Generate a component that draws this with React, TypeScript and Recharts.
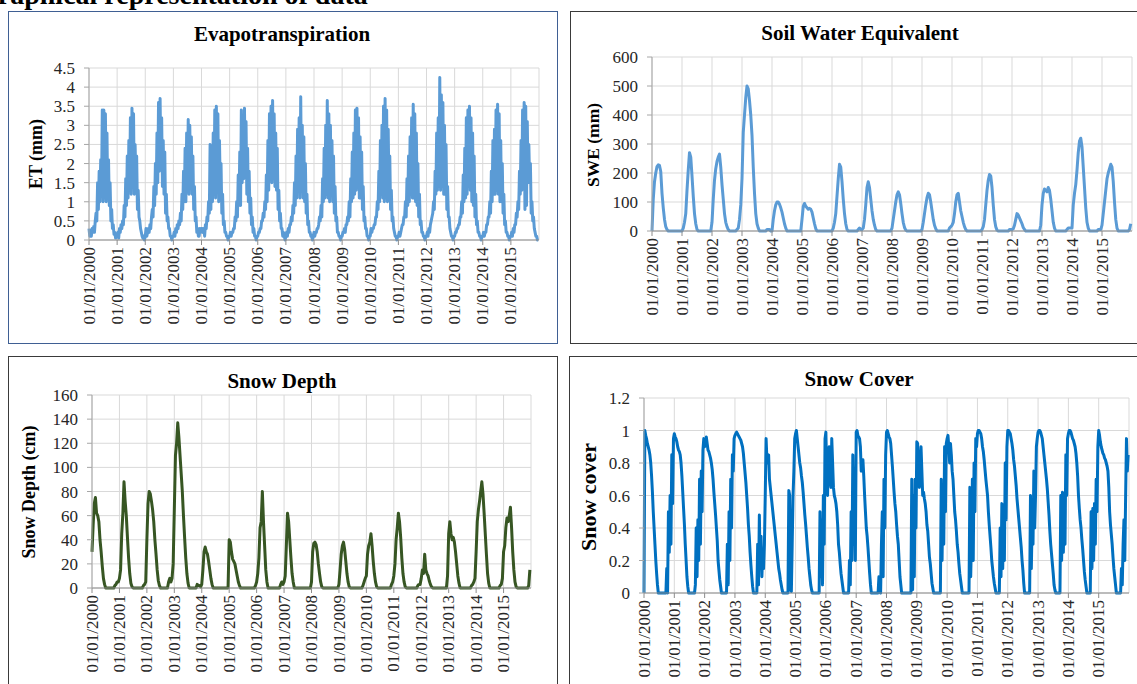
import React from 'react';
import { LineChart, Line, XAxis, YAxis, CartesianGrid } from 'recharts';

const years = [2000, 2001, 2002, 2003, 2004, 2005, 2006, 2007, 2008, 2009, 2010, 2011, 2012, 2013, 2014, 2015];
const xTickLabels = [
  '01/01/2000', '01/01/2001', '01/01/2002', '01/01/2003', '01/01/2004', '01/01/2005', '01/01/2006', '01/01/2007',
  '01/01/2008', '01/01/2009', '01/01/2010', '01/01/2011', '01/01/2012', '01/01/2013', '01/01/2014', '01/01/2015',
];
const etTicks = [0, 0.5, 1, 1.5, 2, 2.5, 3, 3.5, 4, 4.5];
const sweTicks = [0, 100, 200, 300, 400, 500, 600];
const depthTicks = [0, 20, 40, 60, 80, 100, 120, 140, 160];
const coverTicks = [0, 0.2, 0.4, 0.6, 0.8, 1, 1.2];

// Evapotranspiration (mm), ~10-day samples, one row per year
const etByYear: number[][] = [
  [0.3,0.1,0.2,0.1,0.3,0.2,0.35,0.2,0.5, 0.7,0.5,1.5, 0.8,1.8,1.0, 2.1,1.2,3.4, 1.0,3.4,1.1, 3.3,1.0,2.8, 1.1,2.1,0.9, 1.5,0.5,0.8, 0.3,0.4,0.15, 0.2,0.05,0.1],
  [0.1,0.2,0.05,0.3,0.2,0.4,0.3,0.5,0.4, 0.9,0.6,1.6, 0.9,2.2,1.1, 2.6,1.3,3.2, 1.2,3.45,1.4, 3.3,1.2,2.5, 1.6,2.2,0.8, 1.3,0.6,0.5, 0.3,0.2,0.1, 0.05,0.1,0.0],
  [0.1,0.3,0.1,0.2,0.3,0.2,0.4,0.3,0.6, 0.8,0.6,1.4, 0.9,2.0,1.2, 2.8,1.5,3.6, 1.8,3.7,1.9, 3.2,1.4,2.6, 1.2,2.3,0.7, 1.2,0.5,0.6, 0.3,0.3,0.1, 0.1,0.0,0.1],
  [0.1,0.2,0.1,0.3,0.2,0.4,0.3,0.5,0.4, 0.7,0.5,1.2, 0.8,1.8,1.0, 2.4,1.0,2.8, 1.3,3.15,1.2, 3.0,1.5,2.7, 1.2,2.2,0.8, 1.4,0.5,0.6, 0.2,0.3,0.1, 0.1,0.3,0.2],
  [0.3,0.3,0.2,0.3,0.1,0.4,0.3,0.6,0.5, 1.0,0.7,2.5, 0.8,2.4,1.0, 2.8,1.2,3.4, 1.1,3.5,1.3, 3.3,1.0,2.6, 1.4,2.0,0.7, 1.2,0.4,0.5, 0.2,0.2,0.1, 0.1,0.0,0.1],
  [0.1,0.2,0.1,0.2,0.2,0.3,0.3,0.6,0.5, 1.0,0.6,1.7, 0.9,2.3,0.9, 3.4,1.5,2.8, 1.6,3.45,1.7, 3.1,1.2,2.4, 1.0,1.8,0.7, 1.1,0.4,0.6, 0.2,0.3,0.1, 0.1,0.0,0.1],
  [0.1,0.2,0.2,0.3,0.3,0.5,0.5,0.7,0.6, 1.0,0.8,1.7, 1.0,2.6,1.3, 3.3,1.6,3.5, 1.5,3.65,1.7, 3.3,1.4,2.8, 1.3,2.4,0.8, 1.3,0.5,0.7, 0.3,0.3,0.1, 0.2,0.1,0.0],
  [0.1,0.2,0.1,0.3,0.2,0.4,0.4,0.6,0.5, 0.9,0.7,1.5, 0.9,2.2,1.1, 2.9,1.4,3.2, 1.1,3.75,1.3, 3.0,1.1,2.7, 1.0,2.0,0.7, 1.2,0.4,0.5, 0.2,0.2,0.1, 0.1,0.0,0.1],
  [0.2,0.1,0.2,0.2,0.3,0.3,0.4,0.6,0.5, 0.9,0.6,1.6, 1.0,2.4,1.1, 3.0,1.2,3.65, 1.1,3.3,1.0, 3.0,1.2,2.6, 1.0,2.2,0.7, 1.4,0.5,0.6, 0.2,0.2,0.1, 0.1,0.0,0.1],
  [0.1,0.2,0.2,0.3,0.2,0.4,0.4,0.6,0.5, 1.0,0.6,1.6, 1.0,2.3,1.1, 2.8,1.2,3.4, 1.3,3.45,1.5, 3.2,1.1,2.7, 1.1,2.3,0.8, 1.4,0.5,0.6, 0.3,0.3,0.1, 0.1,0.0,0.1],
  [0.1,0.3,0.2,0.3,0.3,0.4,0.4,0.6,0.6, 1.0,0.8,1.8, 1.0,2.6,1.2, 3.0,1.1,3.5, 1.0,3.7,1.1, 3.4,1.0,2.9, 1.2,2.2,0.8, 1.3,0.5,0.6, 0.3,0.2,0.1, 0.1,0.0,0.1],
  [0.1,0.2,0.1,0.2,0.3,0.4,0.4,0.6,0.6, 1.0,0.6,1.6, 0.9,2.2,1.0, 2.7,1.3,3.2, 1.1,3.55,1.1, 3.3,1.0,2.8, 0.9,2.0,0.6, 1.2,0.4,0.5, 0.2,0.2,0.1, 0.1,0.0,0.1],
  [0.1,0.2,0.1,0.3,0.2,0.4,0.5,0.6,0.7, 1.0,0.8,1.8, 1.2,2.8,1.3, 3.2,1.4,4.25, 1.3,3.8,1.4, 3.6,1.2,3.0, 1.2,2.5,0.8, 1.4,0.6,0.6, 0.3,0.2,0.1, 0.1,0.0,0.1],
  [0.1,0.2,0.2,0.3,0.3,0.4,0.4,0.6,0.6, 1.0,0.7,1.7, 1.0,2.4,1.1, 3.2,1.2,3.4, 1.4,3.5,1.3, 3.2,1.0,2.8, 0.9,2.2,0.6, 1.2,0.4,0.5, 0.2,0.2,0.1, 0.1,0.0,0.1],
  [0.1,0.2,0.1,0.2,0.2,0.4,0.4,0.6,0.6, 1.0,0.7,1.8, 1.0,2.6,1.2, 2.9,1.2,3.4, 1.3,3.55,1.2, 3.3,1.0,2.6, 1.0,2.0,0.7, 1.2,0.4,0.5, 0.2,0.2,0.1, 0.1,0.0,0.1],
  [0.1,0.2,0.1,0.3,0.2,0.4,0.4,0.7,0.6, 1.0,0.8,1.8, 1.2,2.6,1.3, 3.4,1.4,3.6, 0.8,3.5,0.9, 3.1,1.5,2.5, 1.5,2.0,0.7, 1.0,0.5,0.6, 0.3,0.2,0.1, 0.1,0.0,0.0],
];

// Snow water equivalent (mm), semi-monthly samples
const sweByYear: number[][] = [
  [0,110,170,200,222,228,226,205,130,80,40,15,5,0,0,0,0,0,0,0,0,0,0,0],
  [0,10,30,60,140,210,270,255,190,120,60,25,5,0,0,0,0,0,0,0,0,0,0,0],
  [30,110,175,215,240,255,265,220,160,110,60,30,15,5,0,0,0,0,0,0,5,10,40,90],
  [180,340,400,460,500,490,450,400,330,220,130,60,25,10,0,0,0,0,0,0,5,5,5,0],
  [0,40,70,90,100,100,92,80,65,45,25,10,0,0,0,0,0,0,0,0,0,0,0,0],
  [40,85,95,85,80,75,78,75,65,45,25,8,0,0,0,0,0,0,0,0,0,0,0,0],
  [0,10,30,60,120,180,230,220,170,110,60,25,5,0,0,0,0,0,0,0,0,5,10,5],
  [5,10,40,90,150,170,150,110,70,40,20,5,0,0,0,0,0,0,0,0,0,0,0,0],
  [10,40,70,100,125,135,125,95,60,30,12,3,0,0,0,0,0,0,0,0,0,0,0,0],
  [5,30,60,90,115,130,125,100,70,40,20,8,0,0,0,0,0,0,0,0,0,0,10,15],
  [20,30,60,100,125,130,100,70,50,30,15,5,0,0,0,0,0,0,0,0,0,0,0,0],
  [5,15,40,90,140,175,195,190,150,90,40,15,3,0,0,0,0,0,0,0,0,0,5,5],
  [5,8,20,40,60,55,45,35,25,12,5,0,0,0,0,0,0,0,0,0,0,0,0,20],
  [90,130,145,140,135,150,140,110,70,30,10,0,0,0,0,0,0,0,0,0,5,10,10,10],
  [10,90,130,160,210,270,310,320,290,220,150,80,30,10,0,0,0,0,0,0,0,5,5,5],
  [20,60,100,140,180,200,215,230,220,170,100,40,10,0,0,0,0,0,0,0,0,0,5,25],
];

// Snow depth (cm), semi-monthly samples
const depthByYear: number[][] = [
  [30,52,70,75,62,60,55,40,30,18,8,3,0,0,0,0,0,0,0,0,2,3,5,5],
  [8,15,45,62,88,72,60,42,25,12,4,1,0,0,0,0,0,0,0,0,0,2,3,5],
  [40,70,80,78,72,65,55,40,28,15,6,2,0,0,0,0,0,0,0,5,8,5,8,20],
  [65,110,120,137,125,110,95,80,60,42,25,12,4,0,0,0,0,0,0,0,3,2,2,1],
  [3,15,30,34,30,28,22,15,8,3,0,0,0,0,0,0,0,0,0,0,0,0,0,0],
  [40,38,30,24,22,20,15,10,5,2,0,0,0,0,0,0,0,0,0,0,0,0,0,2],
  [5,12,25,50,55,80,55,35,15,5,0,0,0,0,0,0,0,0,0,0,0,3,5,3],
  [5,10,35,62,55,40,25,12,5,0,0,0,0,0,0,0,0,0,0,0,0,0,0,0],
  [5,30,37,38,36,30,20,12,5,1,0,0,0,0,0,0,0,0,0,0,0,0,0,0],
  [3,15,28,35,38,32,22,12,5,1,0,0,0,0,0,0,0,0,0,0,0,2,5,8],
  [10,28,35,38,45,35,22,12,5,1,0,0,0,0,0,0,0,0,0,0,0,0,3,5],
  [10,20,40,50,62,55,42,25,12,5,1,0,0,0,0,0,0,0,0,0,0,2,3,3],
  [8,15,12,28,15,12,10,6,3,1,0,0,0,0,0,0,0,0,0,0,0,0,0,10],
  [45,55,45,40,42,38,30,20,10,4,0,0,0,0,0,0,0,0,0,0,2,3,5,8],
  [30,55,65,72,80,88,78,62,45,28,12,4,0,0,0,0,0,0,0,0,0,2,3,8],
  [30,35,50,58,55,60,67,50,30,15,5,1,0,0,0,0,0,0,0,0,0,0,2,15],
];

// Snow cover fraction, ~10-day samples
const coverByYear: number[][] = [
  [0,1.0,0.97,0.95,0.92,0.9,0.88,0.85,0.8,0.72,0.62,0.5,0.4,0.3,0.2,0.12,0.05,0, 0,0,0,0,0,0,0,0,0, 0.15,0,0.5,0.25,0.6,0.3,0.85,0.55,0.95],
  [0.98,0.96,0.95,0.93,0.9,0.88,0.87,0.85,0.8,0.72,0.62,0.52,0.42,0.3,0.2,0.1,0.04,0, 0,0,0,0,0,0,0, 0.05,0.4,0.1,0.45,0.2,0.7,0.3,0.75,0.5,0.88,0.95],
  [0.9,0.93,0.96,0.92,0.88,0.87,0.85,0.83,0.8,0.76,0.7,0.62,0.55,0.48,0.4,0.32,0.2,0.14,0.08,0.04, 0,0,0,0,0,0,0, 0.3,0.05,0.5,0.2,0.7,0.4,0.85,0.75,0.95],
  [0.97,0.98,0.99,0.98,0.97,0.96,0.95,0.94,0.92,0.9,0.86,0.8,0.74,0.68,0.6,0.52,0.42,0.35,0.25,0.17,0.1,0.04, 0,0,0,0,0, 0.3,0.05,0.48,0.15,0.35,0.1,0.25,0.15,0.3],
  [0.6,0.95,0.82,0.8,0.85,0.7,0.65,0.6,0.55,0.5,0.45,0.4,0.35,0.3,0.25,0.2,0.15,0.12,0.08,0.05,0.02, 0,0,0,0,0,0,0, 0.63,0.6,0.02,0.01,0.3,0.6,0.75,0.95],
  [0.98,1.0,0.95,0.9,0.85,0.8,0.77,0.72,0.68,0.62,0.55,0.48,0.42,0.35,0.28,0.22,0.15,0.1,0.05,0.02, 0,0,0,0,0,0,0,0,0, 0.5,0.1,0.45,0.05,0.6,0.3,0.95],
  [0.99,0.75,0.6,0.85,0.9,0.7,0.65,0.95,0.8,0.65,0.6,0.58,0.55,0.5,0.42,0.3,0.25,0.18,0.12,0.08,0.04, 0,0,0,0,0,0,0, 0.2,0.05,0.5,0.2,0.85,0.3,0.6,0.2],
  [0.99,1.0,0.97,0.96,0.95,0.9,0.75,0.8,0.82,0.72,0.6,0.5,0.4,0.35,0.28,0.2,0.12,0.05, 0,0,0,0,0,0,0,0,0, 0.1,0.02,0,0.3,0.5,0.1,0.7,0.4,0.85],
  [0.99,1.0,0.98,0.96,0.95,0.92,0.85,0.78,0.7,0.62,0.55,0.5,0.42,0.35,0.3,0.2,0.1,0.05, 0,0,0,0,0,0,0,0,0,0,0,0, 0.7,0.02,0.6,0.1,0.7,0.4],
  [0.93,0.92,0.7,0.65,0.8,0.9,0.75,0.6,0.62,0.58,0.55,0.5,0.42,0.38,0.3,0.22,0.18,0.12,0.06,0.03, 0,0,0,0,0,0,0,0,0, 0.7,0.2,0.65,0.3,0.9,0.5,0.92],
  [0.95,0.97,0.9,0.8,0.92,0.85,0.75,0.7,0.6,0.5,0.45,0.38,0.3,0.25,0.18,0.12,0.08,0.04, 0,0,0,0,0,0,0,0,0, 0.65,0.1,0.35,0.7,0.2,0.8,0.5,0.95,0.9],
  [0.98,1.0,1.0,0.99,0.98,0.95,0.9,0.87,0.82,0.76,0.7,0.65,0.6,0.5,0.42,0.35,0.28,0.2,0.15,0.1,0.06,0.03, 0,0,0,0,0, 0.4,0.1,0.55,0.15,0.45,0.2,0.8,0.45,0.9],
  [1.0,1.0,0.99,0.98,0.95,0.92,0.88,0.82,0.78,0.72,0.66,0.58,0.52,0.46,0.4,0.34,0.28,0.2,0.14,0.06, 0,0,0,0,0,0,0, 0.6,0.15,0.45,0.3,0.75,0.4,0.6,0.9,0.95],
  [0.99,1.0,1.0,0.99,0.97,0.95,0.9,0.85,0.8,0.75,0.7,0.64,0.56,0.48,0.38,0.3,0.24,0.18,0.12,0.05,0.02, 0,0,0,0,0,0, 0.6,0.2,0.62,0.25,0.5,0.3,0.85,0.6,0.95],
  [0.98,1.0,1.0,0.99,0.97,0.95,0.94,0.92,0.9,0.86,0.8,0.72,0.6,0.52,0.45,0.4,0.33,0.27,0.2,0.13,0.08,0.04, 0,0,0,0,0, 0.5,0.15,0.52,0.2,0.55,0.3,0.7,0.5,0.9],
  [1.0,0.97,0.93,0.9,0.88,0.86,0.85,0.83,0.82,0.8,0.78,0.75,0.65,0.5,0.42,0.36,0.3,0.22,0.15,0.1,0.05, 0,0,0,0,0,0, 0.15,0.05,0.3,0.45,0.2,0.6,0.95,0.75,0.85],
];

const toSeries = (byYear: number[][]) =>
  byYear.flatMap((vals, yi) => vals.map((v, i) => ({ t: years[yi] + i / vals.length, v })));

const etData = toSeries(etByYear);
const sweData = toSeries(sweByYear);
const depthData = toSeries(depthByYear);
const coverData = toSeries(coverByYear);

const FONT = "'Liberation Serif', 'Times New Roman', Times, serif";
const TEXT = '#262626';

function XTick(props: any) {
  const { x, y, payload } = props;
  const idx = years.indexOf(payload.value);
  return (
    <text
      x={x}
      y={y}
      transform={`rotate(-90 ${x} ${y})`}
      textAnchor="end"
      dy="0.33em"
      fontFamily={FONT}
      style={{ fontFamily: FONT }}
      fontSize={17}
      fill={TEXT}
    >
      {idx >= 0 ? xTickLabels[idx] : ''}
    </text>
  );
}

type PanelProps = {
  left: number;
  top: number;
  width: number;
  height: number;
  margin: { top: number; right: number; bottom: number; left: number };
  yWidth: number;
  xHeight: number;
  data: { t: number; v: number }[];
  yDomain: [number, number];
  yTicks: number[];
  color: string;
  strokeWidth: number;
};

function Panel(p: PanelProps) {
  return (
    <div style={{ position: 'absolute', left: p.left, top: p.top, width: p.width, height: p.height, fontFamily: FONT }}>
      <LineChart width={p.width} height={p.height} data={p.data} margin={p.margin} style={{ fontFamily: FONT }}>
        <CartesianGrid stroke="#D9D9D9" strokeWidth={1} />
        <XAxis
          type="number"
          dataKey="t"
          domain={[2000, 2016]}
          ticks={years}
          interval={0}
          height={p.xHeight}
          tick={<XTick />}
          tickSize={5}
          axisLine={{ stroke: '#8C8C8C' }}
          tickLine={{ stroke: '#8C8C8C' }}
        />
        <YAxis
          type="number"
          domain={p.yDomain}
          ticks={p.yTicks}
          interval={0}
          width={p.yWidth}
          tickSize={5}
          tickMargin={9}
          tick={{ fontFamily: FONT, fontSize: 17, fill: TEXT }}
          axisLine={{ stroke: '#A6A6A6' }}
          tickLine={{ stroke: '#A6A6A6' }}
        />
        <Line
          type="linear"
          dataKey="v"
          stroke={p.color}
          strokeWidth={p.strokeWidth}
          strokeLinejoin="round"
          dot={false}
          activeDot={false}
          isAnimationActive={false}
        />
      </LineChart>
    </div>
  );
}

const boxStyle = (left: number, top: number, width: number, height: number, color: string): React.CSSProperties => ({
  position: 'absolute',
  left,
  top,
  width,
  height,
  border: `1.5px solid ${color}`,
  boxSizing: 'border-box',
  background: '#fff',
});

export default function App() {
  return (
    <div
      style={{
        position: 'absolute',
        left: 0,
        top: 0,
        width: 1137,
        height: 684,
        overflow: 'hidden',
        background: '#fff',
      }}
    >
      <div style={boxStyle(8, 11, 550, 333, '#3F5F93')} />
      <div style={boxStyle(570, 11, 590, 333, '#3A3A3A')} />
      <div style={boxStyle(8, 356, 550, 360, '#3A3A3A')} />
      <div style={boxStyle(569, 356, 590, 360, '#3A3A3A')} />

      <Panel left={8} top={11} width={550} height={333} margin={{ top: 57, right: 19, bottom: 4, left: 0 }}
        yWidth={81} xHeight={100} data={etData} yDomain={[0, 4.5]} yTicks={etTicks} color="#5B9BD5" strokeWidth={3} />
      <Panel left={570} top={11} width={567} height={333} margin={{ top: 46, right: 5, bottom: 13, left: 0 }}
        yWidth={82} xHeight={100} data={sweData} yDomain={[0, 600]} yTicks={sweTicks} color="#5B9BD5" strokeWidth={3} />
      <Panel left={8} top={356} width={550} height={328} margin={{ top: 39, right: 27, bottom: 6, left: 0 }}
        yWidth={84} xHeight={90} data={depthData} yDomain={[0, 160]} yTicks={depthTicks} color="#375623" strokeWidth={3} />
      <Panel left={569} top={356} width={568} height={328} margin={{ top: 42, right: 8, bottom: 3, left: 0 }}
        yWidth={75} xHeight={88} data={coverData} yDomain={[0, 1.2]} yTicks={coverTicks} color="#0070C0" strokeWidth={3} />

      <svg width={1137} height={684} style={{ position: 'absolute', left: 0, top: 0, pointerEvents: 'none' }}>
        <g fontFamily={FONT} fontWeight="bold" fill="#000" style={{ fontFamily: FONT }}>
          <text x={-24} y={4} fontSize={28}>Graphical representation of data</text>
          <text x={282} y={41} fontSize={21} textAnchor="middle">Evapotranspiration</text>
          <text x={860} y={40} fontSize={21} textAnchor="middle">Soil Water Equivalent</text>
          <text x={282} y={388} fontSize={21} textAnchor="middle">Snow Depth</text>
          <text x={859} y={386} fontSize={21} textAnchor="middle">Snow Cover</text>
          <text transform="translate(42,154) rotate(-90)" fontSize={18} textAnchor="middle">ET (mm)</text>
          <text transform="translate(599,145) rotate(-90)" fontSize={17.5} textAnchor="middle">SWE (mm)</text>
          <text transform="translate(35,492) rotate(-90)" fontSize={18} textAnchor="middle">Snow Depth (cm)</text>
          <text transform="translate(596,497) rotate(-90)" fontSize={22} textAnchor="middle">Snow cover</text>
        </g>
      </svg>
    </div>
  );
}
